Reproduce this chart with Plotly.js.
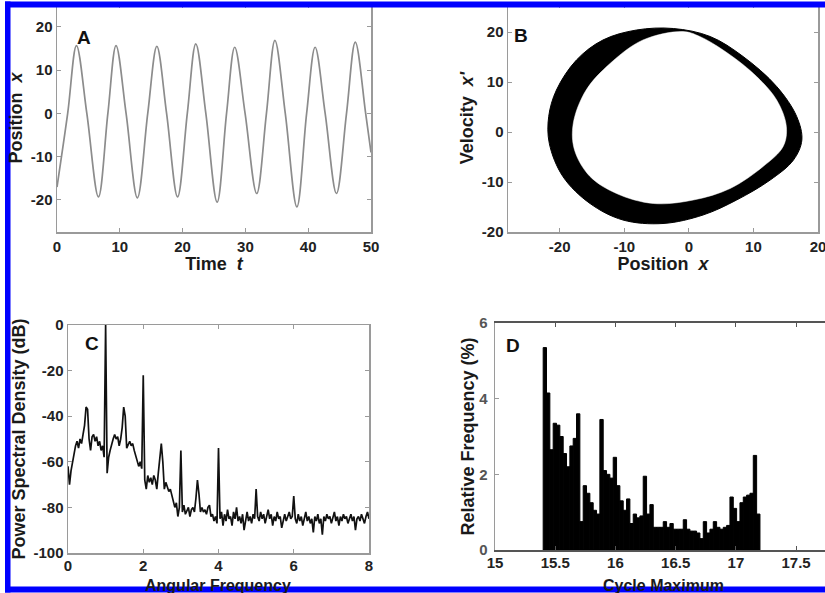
<!DOCTYPE html>
<html><head><meta charset="utf-8">
<script src="https://cdn.plot.ly/plotly-3.0.1.min.js"></script>
<style>html,body{margin:0;padding:0;background:#fff;} #chart{width:825px;height:593px;}</style>
</head><body><div id="chart"></div>
<script>
// ---------- Panel A: time series ----------
const timeT = [0, 1.7, 3.1, 4.75, 6.6, 8.1, 9.4, 11.0, 12.8, 14.45, 15.9, 17.45, 19.2, 20.75, 22.1, 23.7, 25.5, 27.0, 28.3, 29.95, 31.8, 33.35, 34.7, 36.35, 38.2, 39.75, 41.1, 42.7, 44.5, 46.1, 47.5, 49.15, 50];
const positionX = [-17, 0, 15.7, 0, -19.3, 0, 15.7, 0, -19.5, 0, 15.5, 0, -19.3, 0, 16.1, 0, -20.5, 0, 15.3, 0, -18.5, 0, 16.9, 0, -21.6, 0, 15.3, 0, -18.5, 0, 16.5, 0, -9];
const ticksA_x = [0, 10, 20, 30, 40, 50];
const ticksA_xText = ['0', '10', '20', '30', '40', '50'];
const ticksA_y = [-20, -10, 0, 10, 20];
const ticksA_yText = ['-20', '-10', '0', '10', '20'];

// ---------- Panel B: phase portrait band (outer and inner edge) ----------
const orbitOuterX = [-2.4, 3.3, 8.4, 13.6, 16.7, 17.5, 16.2, 12.6, 7.4, 2.2, -4.0, -10.2, -15.3, -19.5, -21.6, -21.7, -20.5, -17.4, -13.3, -8.1, -2.4];
const orbitOuterY = [20.7, 19.1, 15.1, 9.1, 3.1, -1.6, -5.6, -9.6, -13.6, -16.6, -18.3, -17.6, -14.3, -8.9, -2.3, 3.1, 8.4, 14.4, 18.4, 20.4, 20.7];
const orbitInnerX = [-0.9, 1.7, 5.3, 10.0, 13.6, 15.1, 14.6, 11.5, 6.4, 0.7, -5.5, -11.2, -15.3, -17.7, -17.9, -15.9, -12.2, -7.1, -0.9];
const orbitInnerY = [20.1, 19.1, 16.4, 11.7, 6.4, 1.1, -2.9, -6.9, -11.3, -13.6, -14.3, -12.3, -8.9, -3.6, 1.7, 8.4, 13.7, 18.4, 20.1];
const ticksB_x = [-20, -10, 0, 10, 20];
const ticksB_xText = ['-20', '-10', '0', '10', '20'];
const ticksB_y = [-20, -10, 0, 10, 20];
const ticksB_yText = ['-20', '-10', '0', '10', '20'];

// ---------- Panel C: power spectral density (frequency step 0.04) ----------
const psdStartFreq = 0;
const psdFreqStep = 0.04;
const psdDb = [
 -62,-70,-64,-60,-57,-53,-51,-54,-50,-52,
 -48,-44,-36,-37,-50,-55,-49,-48,-51,-49,
 -53,-51,-55,-53,-58,0,-65,-58,-55,-52,
 -50,-48,-50,-49,-53,-50,-45,-36,-40,-54,
 -52,-51,-53,-52,-55,-57,-59,-62,-60,-63,
 -22,-68,-72,-66,-69,-67,-70,-66,-68,-72,
 -65,-58,-52,-60,-72,-69,-71,-73,-72,-75,
 -77,-80,-78,-84,-80,-55,-82,-79,-83,-81,
 -80,-84,-81,-80,-82,-76,-68,-74,-82,-80,
 -82,-81,-83,-80,-79,-84,-83,-86,-84,-87,
 -54,-85,-82,-88,-83,-86,-81,-85,-84,-88,
 -82,-85,-80,-86,-84,-87,-83,-90,-85,-82,
 -86,-84,-87,-83,-85,-72,-84,-86,-82,-85,
 -83,-87,-84,-81,-85,-83,-88,-84,-86,-82,
 -85,-84,-89,-85,-83,-86,-84,-82,-85,-84,
 -75,-85,-87,-83,-86,-84,-88,-85,-82,-86,
 -84,-87,-85,-91,-84,-86,-83,-87,-85,-92,
 -84,-86,-83,-85,-84,-87,-85,-82,-86,-84,
 -88,-84,-86,-83,-85,-84,-87,-85,-83,-86,
 -84,-90,-85,-84,-86,-83,-85,-87,-84,-82,
 -85];
const ticksC_x = [0, 2, 4, 6, 8];
const ticksC_xText = ['0', '2', '4', '6', '8'];
const ticksC_y = [-100, -80, -60, -40, -20, 0];
const ticksC_yText = ['-100', '-80', '-60', '-40', '-20', '0'];

// ---------- Panel D: histogram of cycle maxima ----------
const histLow = 15.40;
const histHigh = 17.20;
const histFreqPct = [5.35, 4.15, 2.65, 3.35, 3.3, 3.0, 2.55, 2.2, 2.75, 2.95,
 3.6, 0.75, 1.7, 1.5, 1.25, 1.05, 0.95, 3.45, 2.1, 2.0,
 1.9, 2.45, 1.7, 1.3, 1.05, 1.35, 0.7, 0.95, 0.85, 0.9,
 1.95, 0.95, 1.2, 0.6, 0.6, 0.6, 0.75, 0.6, 0.7, 0.55,
 0.55, 0.55, 0.8, 0.55, 0.5, 0.5, 0.45, 0.3, 0.75, 0.45,
 0.55, 0.75, 0.6, 0.55, 0.6, 0.65, 1.4, 1.1, 0.75, 1.25,
 1.4, 1.45, 1.5, 2.5, 0.95];
const ticksD_x = [15, 15.5, 16, 16.5, 17, 17.5];
const ticksD_xText = ['15', '15.5', '16', '16.5', '17', '17.5'];
const ticksD_y = [0, 2, 4, 6];
const ticksD_yText = ['0', '2', '4', '6'];

// ---------- build ----------
const W = 825, H = 593;
const px = v => v / W;
const py = v => 1 - v / H;
const F = 'Liberation Sans, Arial, Helvetica, sans-serif';
const binW = (histHigh - histLow) / histFreqPct.length;

const traces = [
  {type:'scatter', mode:'lines', x: timeT, y: positionX, xaxis:'x', yaxis:'y',
   line:{color:'#8c8c8c', width:1.7, shape:'spline', smoothing:1}, hoverinfo:'skip'},
  {type:'scatter', mode:'lines', x: orbitOuterX, y: orbitOuterY, xaxis:'x2', yaxis:'y2',
   fill:'toself', fillcolor:'#000', line:{color:'#000', width:1, shape:'spline'}, hoverinfo:'skip'},
  {type:'scatter', mode:'lines', x: orbitInnerX, y: orbitInnerY, xaxis:'x2', yaxis:'y2',
   fill:'toself', fillcolor:'#fff', line:{color:'#fff', width:0.5, shape:'spline'}, hoverinfo:'skip'},
  {type:'scatter', mode:'lines', x0: psdStartFreq, dx: psdFreqStep, y: psdDb, xaxis:'x3', yaxis:'y3',
   line:{color:'#111', width:1.7}, hoverinfo:'skip'},
  {type:'bar', x0: histLow + binW / 2, dx: binW, y: histFreqPct, width: binW, xaxis:'x4', yaxis:'y4',
   marker:{color:'#000', line:{color:'#000', width:1}}, hoverinfo:'skip'}
];

const tickFont = {family:F, size:15, color:'#222', weight:'bold'};
const titleFont = {family:F, size:18, color:'#1a1a1a', weight:'bold'};
const bottomTitleFont = {family:F, size:16, color:'#1a1a1a', weight:'bold'};
function ax(o) {
  return Object.assign({showgrid:false, zeroline:false, showline:true, linecolor:'#9a9a9a', linewidth:1.5,
    mirror:'ticks', ticks:'inside', ticklen:4, tickcolor:'#9a9a9a', tickwidth:1, tickfont:tickFont,
    tickmode:'array', fixedrange:true, automargin:false, ticklabeloverflow:'allow'}, o);
}

const layout = {
  width: W, height: H, margin:{l:0, r:0, t:0, b:0}, paper_bgcolor:'#fff', plot_bgcolor:'#fff',
  showlegend:false, bargap:0,
  xaxis: ax({domain:[px(57), px(371)], range:[0, 50], tickvals: ticksA_x, ticktext: ticksA_xText, anchor:'y',
    title:{text:'Time\u00a0\u00a0<i>t</i>', font:titleFont, standoff:1}}),
  yaxis: ax({domain:[py(232), py(4)], range:[-27.4, 25.3], tickvals: ticksA_y, ticktext: ticksA_yText, anchor:'x',
    title:{text:'Position\u00a0\u00a0<i>x</i>', font:titleFont, standoff:3}}),
  xaxis2: ax({domain:[px(508), px(818)], range:[-28, 20], tickvals: ticksB_x, ticktext: ticksB_xText, anchor:'y2',
    title:{text:'Position\u00a0\u00a0<i>x</i>', font:titleFont, standoff:0}}),
  yaxis2: ax({domain:[py(232), py(4)], range:[-20, 25.6], tickvals: ticksB_y, ticktext: ticksB_yText, anchor:'x2',
    title:{text:"Velocity\u00a0\u00a0<i>x'</i>", font:titleFont, standoff:3}}),
  xaxis3: ax({domain:[px(68), px(369)], range:[0, 8], tickvals: ticksC_x, ticktext: ticksC_xText, anchor:'y3',
    ticklabelstandoff:-2}),
  yaxis3: ax({domain:[py(553), py(325)], range:[-100, 0], tickvals: ticksC_y, ticktext: ticksC_yText, anchor:'x3',
    title:{text:'Power Spectral Density (dB)', font:titleFont, standoff:3}}),
  xaxis4: ax({domain:[px(495), 1], range:[15, 17.74], tickvals: ticksD_x, ticktext: ticksD_xText, anchor:'y4',
    linecolor:'#555', tickcolor:'#555', linewidth:2, ticklabelstandoff:-2}),
  yaxis4: ax({domain:[py(550), py(323)], range:[0, 6], tickvals: ticksD_y, ticktext: ticksD_yText, anchor:'x4', mirror:false,
    tickfont:{family:F, size:15, color:'#555', weight:'bold'}, ticklabelstandoff:3,
    title:{text:'Relative Frequency (%)', font:titleFont, standoff:0}}),
  annotations: [
    {text:'A', x:px(75), y:py(25), xref:'paper', yref:'paper', showarrow:false, font:{family:F, size:19, color:'#111', weight:'bold'}},
    {text:'B', x:px(521), y:py(23), xref:'paper', yref:'paper', showarrow:false, font:{family:F, size:19, color:'#111', weight:'bold'}},
    {text:'C', x:px(83), y:py(343), xref:'paper', yref:'paper', showarrow:false, font:{family:F, size:19, color:'#111', weight:'bold'}},
    {text:'D', x:px(513), y:py(345), xref:'paper', yref:'paper', showarrow:false, font:{family:F, size:19, color:'#111', weight:'bold'}},
    {text:'Angular Frequency', x:px(218), y:py(574.5), xref:'paper', yref:'paper', xanchor:'center', yanchor:'top',
     showarrow:false, font:bottomTitleFont},
    {text:'Cycle Maximum', x:px(663), y:py(574.5), xref:'paper', yref:'paper', xanchor:'center', yanchor:'top',
     showarrow:false, font:bottomTitleFont}
  ],
  shapes: [
    {type:'rect', xref:'paper', yref:'paper', x0:px(5), x1:1, y0:py(7.5), y1:py(1.5), fillcolor:'#0000ff', line:{width:0}, layer:'above'},
    {type:'rect', xref:'paper', yref:'paper', x0:px(5), x1:px(10.5), y0:py(592.5), y1:py(1.5), fillcolor:'#0000ff', line:{width:0}, layer:'above'},
    {type:'rect', xref:'paper', yref:'paper', x0:px(5), x1:1, y0:py(592.5), y1:py(586.5), fillcolor:'#0000ff', line:{width:0}, layer:'above'}
  ]
};

Plotly.newPlot('chart', traces, layout, {staticPlot:true, displayModeBar:false});
</script></body></html>
